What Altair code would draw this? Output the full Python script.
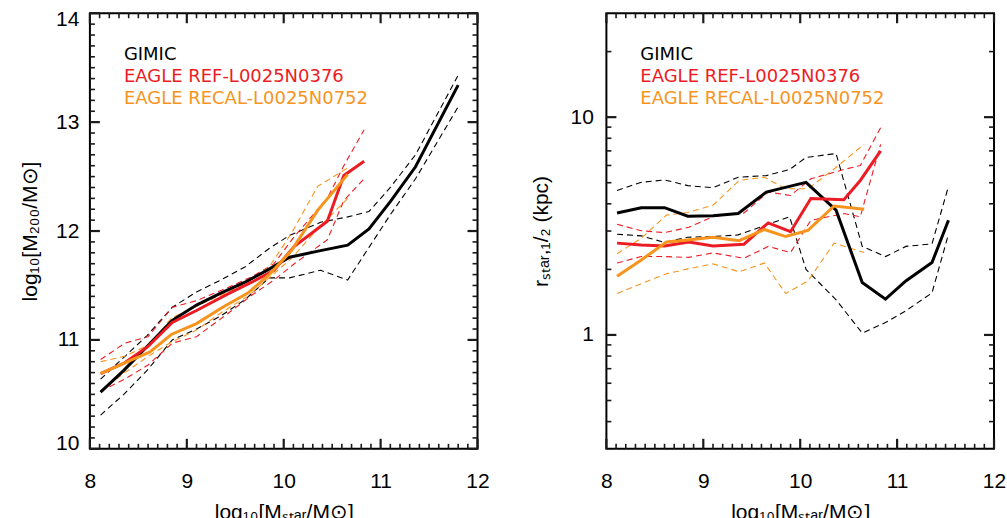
import altair as alt
import pandas as pd
import numpy as np

SIMS = ["GIMIC", "EAGLE REF-L0025N0376", "EAGLE RECAL-L0025N0752"]
COLORS = ["#000000", "#ec1c24", "#f7941d"]
FONT = "Liberation Sans"
LEG_FONT = "DejaVu Sans"

# ---------------- left panel: log10 M200 vs log10 Mstar ----------------
gimic_l_x = [8.11, 8.35, 8.59, 8.85, 9.10, 9.35, 9.60, 9.85, 10.06, 10.38, 10.66, 10.88, 11.10, 11.36, 11.80]
gimic_l_med = [10.52, 10.72, 10.94, 11.18, 11.32, 11.43, 11.53, 11.65, 11.76, 11.82, 11.87, 12.02, 12.27, 12.59, 13.34]
gimic_l_hi = [10.64, 10.84, 11.04, 11.30, 11.44, 11.55, 11.67, 11.84, 11.96, 12.08, 12.13, 12.18, 12.40, 12.70, 13.43]
gimic_l_lo = [10.31, 10.50, 10.72, 11.00, 11.10, 11.22, 11.37, 11.57, 11.57, 11.64, 11.55, 11.85, 12.15, 12.48, 13.14]

ref_x = [8.11, 8.36, 8.60, 8.85, 9.10, 9.42, 9.67, 9.90, 10.11, 10.45, 10.62, 10.83]
ref_l_med = [10.69, 10.79, 10.94, 11.16, 11.27, 11.42, 11.53, 11.64, 11.86, 12.09, 12.51, 12.64]
ref_l_hi = [10.82, 10.97, 11.03, 11.30, 11.36, 11.48, 11.58, 11.70, 11.95, 12.30, 12.60, 12.93]
ref_l_lo = [10.53, 10.64, 10.77, 10.97, 11.03, 11.24, 11.41, 11.55, 11.70, 11.92, 12.28, 12.48]

recal_x = [8.11, 8.36, 8.62, 8.84, 9.10, 9.37, 9.63, 9.85, 10.08, 10.35, 10.66]
recal_l_med = [10.69, 10.79, 10.89, 11.05, 11.15, 11.30, 11.43, 11.60, 11.82, 12.19, 12.52]
recal_l_hi = [10.80, 10.85, 10.96, 11.20, 11.31, 11.42, 11.53, 11.67, 11.98, 12.41, 12.58]
recal_l_lo = [10.53, 10.70, 10.86, 10.98, 11.09, 11.26, 11.40, 11.57, 11.75, 12.02, 12.30]

# ---------------- right panel: r_star,1/2 (kpc) vs log10 Mstar ----------------
gimic_r_x = [8.11, 8.36, 8.60, 8.84, 9.10, 9.36, 9.65, 9.89, 10.06, 10.37, 10.64, 10.88, 11.09, 11.36, 11.53]
gimic_r_med = [3.63, 3.84, 3.84, 3.51, 3.53, 3.61, 4.53, 4.81, 5.02, 3.74, 1.74, 1.46, 1.77, 2.15, 3.36]
gimic_r_hi = [4.61, 5.02, 5.15, 4.85, 4.74, 5.30, 5.39, 5.75, 6.53, 6.81, 2.55, 2.29, 2.55, 2.62, 4.81]
gimic_r_lo = [2.90, 2.85, 2.66, 2.81, 2.83, 2.88, 3.20, 3.49, 2.00, 1.45, 1.02, 1.14, 1.29, 1.56, 2.90]

ref_r_med = [2.64, 2.59, 2.56, 2.67, 2.56, 2.61, 3.27, 2.98, 4.23, 4.18, 5.12, 7.00]
ref_r_hi = [3.22, 3.01, 2.95, 3.12, 3.49, 3.63, 4.53, 4.37, 5.21, 5.75, 6.00, 8.94]
ref_r_lo = [2.14, 2.29, 2.29, 2.27, 2.38, 2.25, 2.55, 2.39, 3.36, 3.61, 3.49, 7.50]

recal_r_med = [1.86, 2.21, 2.67, 2.73, 2.81, 2.71, 3.05, 2.83, 3.02, 3.91, 3.78]
recal_r_hi = [2.36, 2.78, 3.55, 3.65, 3.94, 5.12, 5.30, 4.69, 4.69, 5.78, 7.51]
recal_r_lo = [1.55, 1.72, 1.91, 2.01, 2.12, 1.95, 2.14, 1.55, 1.77, 2.64, 2.39]

X_MAJOR = [8.0, 9.0, 10.0, 11.0, 12.0]
YL_MAJOR = [10.0, 11.0, 12.0, 13.0, 14.0]
YR_MAJOR = [1.0, 10.0]

XTITLE = "log\u2081\u2080[M\u209b\u209c\u2090\u1d63/M\u2299]"
YL_TITLE = "log\u2081\u2080[M\u2082\u2080\u2080/M\u2299]"
YR_TITLE = "r\u209b\u209c\u2090\u1d63,\u2081/\u2082  (kpc)"

W, H = 388, 436
MAJOR_LEN, MINOR_LEN = 10, 5


def long_df(series):
    rows = []
    for sim, x, med, lo, hi in series:
        for stat, ys in (("med", med), ("lo", lo), ("hi", hi)):
            for xi, yi in zip(x, ys):
                rows.append({"sim": sim, "stat": stat, "x": float(xi), "y": float(yi)})
    return pd.DataFrame(rows)


df_left = long_df([
    (SIMS[0], gimic_l_x, gimic_l_med, gimic_l_lo, gimic_l_hi),
    (SIMS[1], ref_x, ref_l_med, ref_l_lo, ref_l_hi),
    (SIMS[2], recal_x, recal_l_med, recal_l_lo, recal_l_hi),
])
df_right = long_df([
    (SIMS[0], gimic_r_x, gimic_r_med, gimic_r_lo, gimic_r_hi),
    (SIMS[1], ref_x, ref_r_med, ref_r_lo, ref_r_hi),
    (SIMS[2], recal_x, recal_r_med, recal_r_lo, recal_r_hi),
])

# tick positions (axis decoration)
x_minor = [float(round(v, 1)) for v in np.arange(8.1, 12.0, 0.1) if abs(v - round(v)) > 1e-6]
yl_minor = [float(round(v, 1)) for v in np.arange(10.1, 14.0, 0.1) if abs(v - round(v)) > 1e-6]
yr_minor = [0.4, 0.5, 0.6, 0.7, 0.8, 0.9, 2.0, 3.0, 4.0, 5.0, 6.0, 7.0, 8.0, 9.0, 20.0]

label_color_expr = ("datum.label == 'GIMIC' ? '%s' : (datum.label == '%s' ? '%s' : '%s')"
                    % (COLORS[0], SIMS[1], COLORS[1], COLORS[2]))


def panel(df, ydom, ytype, ytitle, ymajor, yminor, label_pad, title_pad, flush, tag):
    xscale = alt.Scale(domain=[8, 12], nice=False, zero=False)
    yscale = alt.Scale(domain=ydom, type=ytype, nice=False, zero=False)
    xaxis = alt.Axis(values=X_MAJOR, format="d", ticks=False, tickSize=0, domain=False, grid=False,
                     labelPadding=22, title=XTITLE, titlePadding=10, labelFlush=False)
    yaxis = alt.Axis(values=ymajor, format="d", ticks=False, tickSize=0, domain=False, grid=False,
                     labelPadding=label_pad, title=ytitle, titlePadding=title_pad,
                     labelFlush=flush, labelFlushOffset=5)
    x = alt.X("x:Q", scale=xscale, axis=xaxis)
    y = alt.Y("y:Q", scale=yscale, axis=yaxis)
    color = alt.Color("sim:N", scale=alt.Scale(domain=SIMS, range=COLORS),
                      legend=alt.Legend(orient="none", legendX=16, legendY=33, title=None,
                                        symbolSize=0, symbolStrokeWidth=0, symbolOpacity=0,
                                        labelOffset=0, labelFont=LEG_FONT, labelFontSize=18,
                                        labelColor={"expr": label_color_expr}, rowPadding=4,
                                        padding=0, labelLimit=500))

    dashed = alt.Chart(df).transform_filter("datum.stat != 'med'").mark_line(
        strokeWidth=1.1, strokeDash=[6, 4]).encode(x=x, y=y, color=color, detail="stat:N")
    solid = alt.Chart(df).transform_filter("datum.stat == 'med'").mark_line(
        strokeWidth=3).encode(x=x, y=y, color=color)

    layers = [dashed, solid]
    tx = alt.X("tx:Q", scale=xscale)
    ty = alt.Y("ty:Q", scale=yscale)
    # inward ticks on all four sides; positions along each axis come from the scales
    for kind, xvals, yvals, ln, sw in (("major", X_MAJOR, ymajor, MAJOR_LEN, 2.2),
                                      ("minor", x_minor, yminor, MINOR_LEN, 1.6)):
        xdf = pd.DataFrame({"tx": xvals, "panel": [tag + kind] * len(xvals)})
        ydf = pd.DataFrame({"ty": yvals, "panel": [tag + kind] * len(yvals)})
        bx = alt.Chart(xdf).mark_rule(color="#1a1a1a", strokeWidth=sw)
        layers.append(bx.encode(x=tx, y=alt.value(H), y2=alt.value(H - ln)))
        layers.append(bx.encode(x=tx, y=alt.value(0), y2=alt.value(ln)))
        by = alt.Chart(ydf).mark_rule(color="#1a1a1a", strokeWidth=sw)
        layers.append(by.encode(y=ty, x=alt.value(0), x2=alt.value(ln)))
        layers.append(by.encode(y=ty, x=alt.value(W), x2=alt.value(W - ln)))
    return alt.layer(*layers).properties(width=W, height=H)


left = panel(df_left, [10, 14], "linear", YL_TITLE, YL_MAJOR, yl_minor, 11, 15, True, "L")
right = panel(df_right, [0.3, 30], "log", YR_TITLE, YR_MAJOR, yr_minor, 13, 19, False, "R")

chart = (alt.hconcat(left, right, spacing=38)
         .resolve_scale(color="independent")
         .resolve_legend(color="independent")
         .properties(padding={"left": 18, "top": 7, "right": 0, "bottom": 0})
         .configure_view(stroke="black", strokeWidth=2)
         .configure_axis(labelFont=FONT, titleFont=FONT, labelFontSize=21, titleFontSize=21,
                         labelColor="black", titleColor="black", titleFontWeight="normal"))

chart.save("out.html", embed_options={"renderer": "svg", "actions": False})
